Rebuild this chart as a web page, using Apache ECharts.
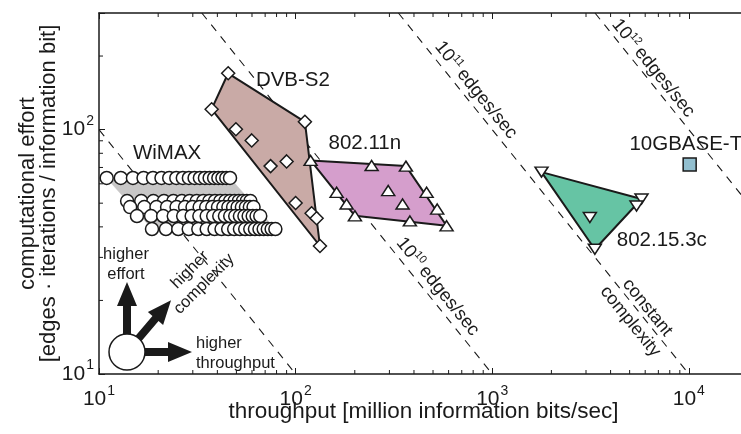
<!DOCTYPE html>
<html><head><meta charset="utf-8">
<script src="https://cdn.jsdelivr.net/npm/echarts@6/dist/echarts.min.js"></script>
<style>html,body{margin:0;padding:0;background:#fff}#c{width:741px;height:434px}</style>
</head><body><div id="c"></div>
<script>
// ---------- axis ranges & ticks ----------
const xRange = [10, 20000];
const yRange = [10, 300];
const xMinorTicks = [20,30,40,50,60,70,80,90,200,300,400,500,600,700,800,900,2000,3000,4000,5000,6000,7000,8000,9000];
const yMinorTicks = [20,30,40,50,60,70,80,90,200];

// ---------- WiMAX (throughput rows, effort per row) ----------
const wimaxEffort = [63.4, 51.0, 48.2, 44.3, 39.2];
const wimaxRow1 = [10.94,12.91,14.88,16.85,18.82,20.79,22.76,24.73,26.69,28.66,30.63,32.60,34.57,36.54,38.51,40.48,42.45,44.42,46.39];
const wimaxRow2 = [13.9,16.4,18.9,21.4,23.9,26.4,28.9,31.4,33.9,36.4,38.9,41.4,43.9,46.4,48.9,51.4,53.9,56.4,58.9];
const wimaxRow3 = [14.4,17.0,19.6,22.2,24.8,27.4,29.9,32.5,35.1,37.7,40.3,42.9,45.5,48.1,50.7,53.3,55.9,58.5,61.1];
const wimaxRow4 = [15.6,18.4,21.2,24.0,26.8,29.6,32.4,35.3,38.1,40.9,43.7,46.5,49.3,52.1,54.9,57.7,60.5,63.3,66.1];
const wimaxRow5 = [18.6,21.9,25.3,28.6,32.0,35.3,38.7,42.0,45.4,48.7,52.1,55.4,58.8,62.1,65.5,68.8,72.2,75.5,78.9];
const wimaxRegion = [[10.94,63.4],[46.39,63.4],[78.9,39.2],[18.6,39.2]];

// ---------- DVB-S2 ----------
const dvbPoints = [[45.4,170],[37.4,121.2],[111.5,107.6],[49.7,100.3],[59.8,90.3],[74.6,70.9],[90.0,74.1],[100,50.1],[120.6,45.5],[127.9,43.4],[133,33.4]];
const dvbRegion = [[45.4,170],[111.5,107.6],[133,33.4],[37.4,121.2]];

// ---------- 802.11n ----------
const n11Points = [[119.2,74.8],[243.6,71.3],[364,70.9],[161.7,55.4],[295.8,56.3],[463.8,55.4],[181.7,49.6],[350,49.6],[525,47.3],[200.3,44.4],[381.3,42.3],[586,40.4]];
const n11Region = [[119.2,74.8],[364,70.9],[586,40.4],[200.3,44.4]];

// ---------- 802.15.3c ----------
const c15Points = [[1782,67.0],[5747,52.0],[5420,48.7],[3138,43.7],[3327,32.4]];
const c15Region = [[1782,67.0],[5747,52.0],[3327,32.4]];

// ---------- 10GBASE-T ----------
const gbasePoints = [[10100,72]];

// ---------- constant-complexity reference lines (edges/sec) ----------
const line1e9  = [[3.333,300],[100,10]];
const line1e10 = [[33.33,300],[1000,10]];
const line1e11 = [[333.3,300],[10000,10]];
const line1e12 = [[3333,300],[100000,10]];

// ---------- text annotations ----------
const seriesNames = ['WiMAX','DVB-S2','802.11n','802.15.3c','10GBASE-T'];
const seriesNamePos = [[22.2,79.6],[96.9,159],[225,87.6],[7290,35.3],[9650,86.7]];
const lineLabelExp = ['10','11','12'];
const lineLabelPos = [[526,22.7],[821,144.7],[6561,178]];
const constLabelText = 'constant\ncomplexity';
const constLabelPos = [5568,17.5];

const FONT = "'Liberation Sans', Arial, Helvetica, sans-serif";
const INK = '#1a1a1a';
const SLOPE_ROT = -51 * Math.PI / 180;

function powLabel(v){
  const e = Math.log10(v);
  if (Math.abs(e - Math.round(e)) > 1e-6) return '';
  return '{b|10}{s|' + Math.round(e) + '}';
}
const powRichX = {
  b:{fontSize:21, lineHeight:21, verticalAlign:'bottom', color:INK, fontFamily:FONT},
  s:{fontSize:14, lineHeight:14, padding:[0,0,12,1], verticalAlign:'bottom', color:INK, fontFamily:FONT}
};
const powRichY = {
  b:{fontSize:21, lineHeight:21, padding:[8,0,0,0], verticalAlign:'bottom', color:INK, fontFamily:FONT},
  s:{fontSize:14, lineHeight:14, padding:[0,0,12,1], verticalAlign:'bottom', color:INK, fontFamily:FONT}
};

function polygonSeries(pts, fill, stroke, lw){
  return {type:'custom', silent:true, z:2, xAxisIndex:0, yAxisIndex:0,
    data:[pts[0]],
    renderItem:(p, api) => ({type:'polygon',
      shape:{points: pts.map(q => api.coord(q))},
      style:{fill:fill, stroke:stroke, lineWidth:lw, lineJoin:'round'}})};
}
function markerSeries(pts, symbol, size, fill, rot){
  return {type:'scatter', silent:true, z:3, symbol:symbol, symbolSize:size, symbolRotate:rot||0,
    data:pts, itemStyle:{color:fill, borderColor:INK, borderWidth:1.5, opacity:1}};
}
function dashSeries(pts){
  return {type:'line', silent:true, z:1, data:pts, showSymbol:false, clip:true,
    lineStyle:{color:INK, width:1.1, type:[8,7]}};
}

const wimaxRows = [wimaxRow1, wimaxRow2, wimaxRow3, wimaxRow4, wimaxRow5];
const wimaxData = [];
wimaxRows.forEach((row, i) => row.forEach(t => wimaxData.push([t, wimaxEffort[i]])));

// annotation descriptors (text + rotation), positions from the arrays above
const annotations = [];
seriesNames.forEach((n, i) => annotations.push({pos:seriesNamePos[i], rot:0,
  style:{text:n, fontSize:20.5, fill:INK, fontFamily:FONT, align:'center', verticalAlign:'middle'}}));
lineLabelExp.forEach((e, i) => annotations.push({pos:lineLabelPos[i], rot:SLOPE_ROT,
  style:{text:'{b|10}{s|' + e + '} {b|edges/sec}', fill:INK, fontFamily:FONT, align:'center', verticalAlign:'middle',
    rich:{b:{fontSize:18.5, lineHeight:18, verticalAlign:'bottom', fill:INK, fontFamily:FONT},
          s:{fontSize:11, lineHeight:11, padding:[0,0,9,0], verticalAlign:'bottom', fill:INK, fontFamily:FONT}}}}));
annotations.push({pos:constLabelPos, rot:SLOPE_ROT,
  style:{text:constLabelText, fontSize:18, lineHeight:22, fill:INK, fontFamily:FONT, align:'center', verticalAlign:'middle'}});

function arrow(x, y, len, rot){
  const h = 24;
  return {type:'polygon', x:x, y:y, rotation:rot, z:10,
    shape:{points:[[0,-4],[len-h,-4],[len-h,-10],[len,0],[len-h,10],[len-h,4],[0,4]]},
    style:{fill:INK}};
}

const chart = echarts.init(document.getElementById('c'), null, {renderer:'canvas'});
chart.setOption({
  animation:false,
  backgroundColor:'#fff',
  textStyle:{fontFamily:FONT, color:INK},
  grid:{left:99, top:13, right:-7, bottom:60, containLabel:false, outerBoundsMode:'none'},
  xAxis:[{
    type:'log', logBase:10, min:xRange[0], max:xRange[1], position:'bottom',
    name:'throughput [million information bits/sec]', nameLocation:'middle', nameGap:26, nameMoveOverlap:false,
    nameTextStyle:{fontSize:22.5, color:INK, fontFamily:FONT},
    axisLine:{show:true, onZero:false, lineStyle:{color:INK, width:1.5}},
    axisTick:{show:true, inside:true, length:6, lineStyle:{color:INK, width:1}},
    axisLabel:{formatter:powLabel, rich:powRichX, fontSize:21, margin:15, showMinLabel:true, showMaxLabel:true},
    splitLine:{show:false}, minorTick:{show:false}
  },{
    type:'log', logBase:10, min:xRange[0], max:xRange[1], position:'top',
    axisLine:{show:true, onZero:false, lineStyle:{color:INK, width:1.5}},
    axisTick:{show:true, inside:true, length:6, lineStyle:{color:INK, width:1}},
    axisLabel:{show:false}, splitLine:{show:false}
  }],
  yAxis:[{
    type:'log', logBase:10, min:yRange[0], max:yRange[1], position:'left',
    name:'computational effort\n[edges \u00b7 iterations / information bit]',
    nameLocation:'middle', nameRotate:90, nameGap:40, nameMoveOverlap:false,
    nameTextStyle:{fontSize:22, lineHeight:21, color:INK, fontFamily:FONT, align:'center'},
    axisLine:{show:true, onZero:false, lineStyle:{color:INK, width:1.5}},
    axisTick:{show:true, inside:true, length:6, lineStyle:{color:INK, width:1}},
    axisLabel:{formatter:powLabel, rich:powRichY, fontSize:21, margin:5},
    splitLine:{show:false}
  }],
  graphic:[
    arrow(127, 352, 70, Math.PI/2),
    arrow(127, 352, 68, Math.atan2(40,34)),
    arrow(127, 352, 65, 0),
    {type:'circle', z:11, shape:{cx:127, cy:352, r:18}, style:{fill:'#fff', stroke:INK, lineWidth:1.5}},
    {type:'text', z:11, x:126, y:264, style:{text:'higher\neffort', fontSize:16.5, lineHeight:20, fontFamily:FONT, fill:INK, align:'center', verticalAlign:'middle'}},
    {type:'text', z:11, x:197, y:277, rotation:Math.PI/4, style:{text:'higher\ncomplexity', fontSize:16.5, lineHeight:20, fontFamily:FONT, fill:INK, align:'center', verticalAlign:'middle'}},
    {type:'text', z:11, x:196, y:353, style:{text:'higher\nthroughput', fontSize:16.5, lineHeight:20, fontFamily:FONT, fill:INK, align:'left', verticalAlign:'middle'}}
  ],
  series:[
    dashSeries(line1e9), dashSeries(line1e10), dashSeries(line1e11), dashSeries(line1e12),
    polygonSeries(wimaxRegion, '#c8c7c7', '#c8c7c7', 0.5),
    polygonSeries(dvbRegion, '#c9aaa6', INK, 2),
    polygonSeries(n11Region, '#d59ecc', INK, 2),
    polygonSeries(c15Region, '#66c4a4', INK, 2),
    markerSeries(wimaxData, 'circle', 13, '#fff'),
    markerSeries(dvbPoints, 'diamond', 13, '#fff'),
    markerSeries(n11Points, 'triangle', [13,10], '#fff'),
    markerSeries(c15Points, 'triangle', [13,10], '#fff', 180),
    markerSeries(gbasePoints, 'rect', 13, '#92bfcf'),
    {type:'custom', silent:true, z:4, data:xMinorTicks.map(v => [v, yRange[0]]),
      renderItem:(p, api) => {
        const b = api.coord([api.value(0), yRange[0]]);
        const t = api.coord([api.value(0), yRange[1]]);
        return {type:'group', children:[
          {type:'line', shape:{x1:b[0], y1:b[1], x2:b[0], y2:b[1]-4}, style:{stroke:INK, lineWidth:1}},
          {type:'line', shape:{x1:t[0], y1:t[1], x2:t[0], y2:t[1]+4}, style:{stroke:INK, lineWidth:1}}
        ]};
      }},
    {type:'custom', silent:true, z:4, data:yMinorTicks.map(v => [xRange[0], v]),
      renderItem:(p, api) => {
        const l = api.coord([xRange[0], api.value(1)]);
        return {type:'line', shape:{x1:l[0], y1:l[1], x2:l[0]+4, y2:l[1]}, style:{stroke:INK, lineWidth:1}};
      }},
    {type:'custom', silent:true, z:6, data:annotations.map((a, i) => [a.pos[0], a.pos[1], i]),
      renderItem:(p, api) => {
        const a = annotations[api.value(2)];
        const c = api.coord([api.value(0), api.value(1)]);
        return {type:'text', x:c[0], y:c[1], rotation:a.rot, style:a.style};
      }}
  ]
});
</script></body></html>
